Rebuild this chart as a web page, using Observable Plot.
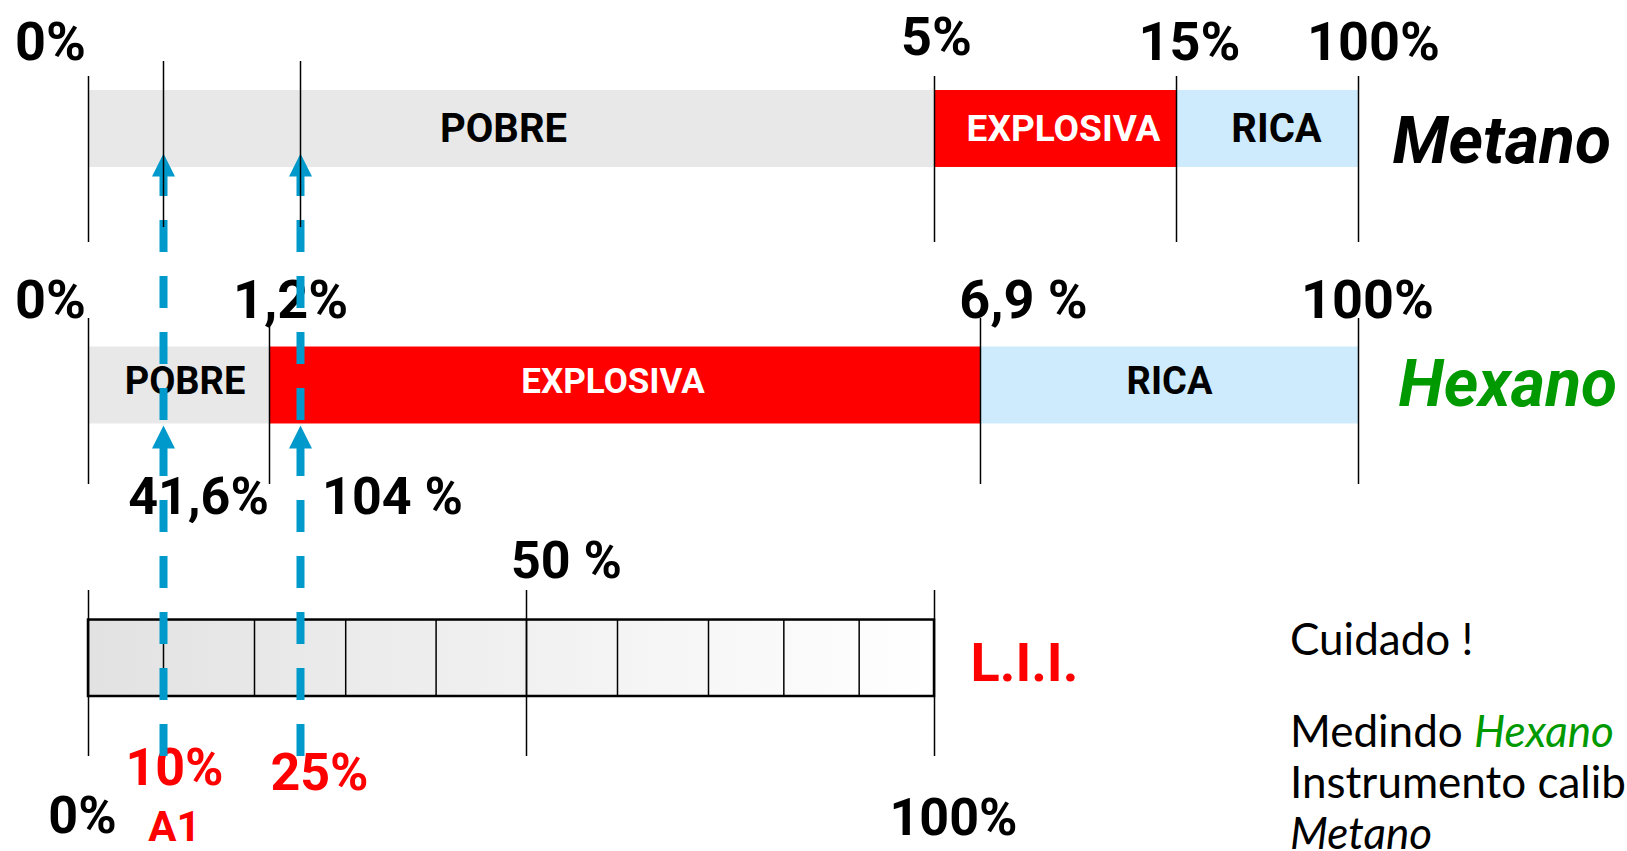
<!DOCTYPE html>
<html>
<head>
<meta charset="utf-8">
<script src="https://cdn.jsdelivr.net/npm/d3@7"></script>
<script src="https://cdn.jsdelivr.net/npm/@observablehq/plot@0.6"></script>
<style>
  html, body { margin: 0; padding: 0; background: #fff; overflow: hidden; width: 1627px; height: 851px; }
  #wrap { position: relative; width: 1627px; height: 851px; overflow: hidden; }
  .note { position: absolute; left: 1290px; font-family: Lato, "Open Sans", sans-serif; font-size: 44px; line-height: 51px; color: #000; white-space: nowrap; }
  .note i { font-style: italic; }
</style>
</head>
<body>
<div id="wrap">
  <div id="chart"></div>
</div>
<script>
// ---------------- data ----------------
const methaneLEL = 5;                       // % vol (L.I.I. of methane, instrument calibration gas)
const rows = ["Metano", "Hexano", "LII"];
const zoneNames = ["POBRE", "EXPLOSIVA", "RICA"];
const metanoBounds = [0, 5, 15, 100];       // % vol
const metanoLabels = ["0%", "5%", "15%", "100%"];
const hexanoBounds = [0, 1.2, 6.9, 100];    // % vol
const hexanoLabels = ["0%", "1,2%", "6,9 %", "100%"];
const liiCells = [0, 10, 20, 30, 40, 50, 60, 70, 80, 90, 100];   // % L.I.I.
const liiTicks = [0, 50, 100];
const liiTickLabels = ["0%", "50 %", "100%"];
const liiName = "L.I.I.";
const readings = [10, 25];                  // instrument readings, % L.I.I. (methane)
const readingLabels = ["10%", "25%"];
const hexanoReadingLabels = ["41,6%", "104 %"];
const pointName = "A1";
const noteLines = ["Cuidado !", "Medindo", "Hexano", "Instrumento calibrado com", "Metano"];

// ---------------- helpers ----------------
const lel = v => v / 100 * methaneLEL;      // % L.I.I. (methane) -> % vol
const BLUE = "#0099cc";
const FONT = "Roboto, 'DejaVu Sans', sans-serif";

// schematic (non-linear, piecewise) % vol axis of the original slide
const xOpts = {
  type: "linear",
  domain: [0, 0.5, 1, 1.2, 1.25, 2.5, 3.5, 5, 15, 100],
  range: [88, 163, 254, 269, 300, 526, 708, 934, 1176, 1358],
  axis: null
};
const yOpts = {
  type: "band", domain: rows, range: [88.5, 694.5],
  paddingInner: 0.709, paddingOuter: 0, round: false, axis: null
};
const xs = Plot.scale({x: xOpts});
const pxMid = (a, b) => xs.invert((xs.apply(a) + xs.apply(b)) / 2);

// arrowhead symbol: tip at the anchor point, pointing up
const arrowHead = {
  draw(ctx, size) {
    const r = Math.sqrt(size / Math.PI);
    ctx.moveTo(0, 0);
    ctx.lineTo(r, 2 * r);
    ctx.lineTo(-r, 2 * r);
    ctx.closePath();
  }
};

const zones = [];
[["Metano", metanoBounds], ["Hexano", hexanoBounds]].forEach(([row, b]) =>
  zoneNames.forEach((z, i) => zones.push({row, zone: z, from: b[i], to: b[i + 1]})));

const boldText = (extra) => ({fontFamily: FONT, fontWeight: "bold", lineAnchor: "bottom", ...extra});

function stopMarks(row, bounds, labels, insets, dys, dxs, fontSize) {
  return [
    Plot.tickX(bounds, {x: d => d, y: () => row, stroke: "#000", strokeWidth: 1.5,
      insetTop: insets[0], insetBottom: insets[1]}),
    ...labels.map((t, i) => Plot.text([bounds[i]], boldText({
      x: d => d, y: () => row, text: () => t, dx: dxs[i], dy: dys[i], fontSize, fill: "#000"})))
  ];
}

function zoneLabelMarks(row, dy, fontSize, dxs) {
  const z = zones.filter(d => d.row === row);
  return z.map((d, i) => Plot.text([d], {x: d => pxMid(d.from, d.to), y: "row", text: "zone",
      dx: dxs[i], dy, lineAnchor: "middle", fontSize: d.zone === "EXPLOSIVA" ? fontSize - 3 : fontSize,
      fontWeight: "bold", fontFamily: FONT, fill: d.zone === "EXPLOSIVA" ? "#fff" : "#000"}));
}

const arrowVol = readings.map(lel);
const zoneBar = (row, insetTop, insetBottom) =>
  Plot.barX(zones.filter(d => d.row === row), {x1: "from", x2: "to", y: "row", fill: "zone", insetTop, insetBottom});

const marks = [
  // zone bars
  zoneBar("Metano", 1.5, -1.5),
  zoneBar("Hexano", -6.5, 6.5),
  // L.I.I. scale bar with gradient fill
  Plot.barX([{from: liiCells[0], to: liiCells[liiCells.length - 1]}], {
    x1: d => lel(d.from), x2: d => lel(d.to), y: () => "LII", fill: "url(#liiGrad)", insetTop: 2, insetBottom: -1.5}),
  Plot.tickX(liiCells.slice(1, -1), {x: d => lel(d), y: () => "LII", stroke: "#000", strokeWidth: 1.5, insetTop: 2, insetBottom: -1.5}),
  Plot.barX([{from: liiCells[0], to: liiCells[liiCells.length - 1]}], {
    x1: d => lel(d.from), x2: d => lel(d.to), y: () => "LII", fill: "none", stroke: "#000", strokeWidth: 2.5, insetTop: 2, insetBottom: -1.5}),

  // stop lines and labels
  ...stopMarks("Metano", metanoBounds, metanoLabels, [-12.5, -76.5], [-67, -72, -67, -67], [-38, 2, 13, 15], 54),
  ...stopMarks("Hexano", hexanoBounds, hexanoLabels, [-35, -54], [-74.5, -74.5, -74.5, -74.5], [-38, 21, 43, 9], 54),
  Plot.tickX(liiTicks, {x: d => lel(d), y: () => "LII", stroke: "#000", strokeWidth: 1.5, insetTop: -27.5, insetBottom: -61.5}),
  Plot.text([liiTicks[1]], boldText({x: d => lel(d), y: () => "LII", text: () => liiTickLabels[1], dx: 40, dy: -79, fontSize: 52})),
  Plot.text([liiTicks[0]], boldText({x: d => lel(d), y: () => "LII", text: () => liiTickLabels[0], dx: -6, dy: 176, fontSize: 52})),
  Plot.text([liiTicks[2]], boldText({x: d => lel(d), y: () => "LII", text: () => liiTickLabels[2], dx: 19, dy: 178, fontSize: 52})),

  // zone names
  ...zoneLabelMarks("Metano", 2, 40, [-8, 8, 9]),
  ...zoneLabelMarks("Hexano", -10, 38, [6, -12, 0]),

  // row names
  Plot.text([rows[0]], boldText({x: () => metanoBounds[3], y: () => rows[0], text: d => d, textAnchor: "start",
    dx: 34, dy: 36, fontSize: 66, fontStyle: "italic", fill: "#000"})),
  Plot.text([rows[1]], boldText({x: () => hexanoBounds[3], y: () => rows[1], text: d => d, textAnchor: "start",
    dx: 40, dy: 13.5, fontSize: 66, fontStyle: "italic", fill: "#009900"})),
  Plot.text([liiName], boldText({x: () => lel(100), y: () => "LII", text: d => d, textAnchor: "start",
    dx: 36, dy: 24, fontSize: 54, letterSpacing: "1px", fill: "#ff0000"})),

  // hexane readings
  Plot.text([arrowVol[0]], boldText({x: d => d, y: () => "Hexano", text: () => hexanoReadingLabels[0], dx: 35, dy: 121.5, fontSize: 52})),
  Plot.text([arrowVol[1]], boldText({x: d => d, y: () => "Hexano", text: () => hexanoReadingLabels[1], dx: 92, dy: 121.5, fontSize: 52})),

  // instrument readings (red)
  Plot.text([arrowVol[0]], boldText({x: d => d, y: () => "LII", text: () => readingLabels[0], dx: 11, dy: 128, fontSize: 52, fill: "#ff0000"})),
  Plot.text([arrowVol[1]], boldText({x: d => d, y: () => "LII", text: () => readingLabels[1], dx: 19, dy: 133, fontSize: 52, fill: "#ff0000"})),
  Plot.text([arrowVol[0]], boldText({x: d => d, y: () => "LII", text: () => pointName, dx: 11, dy: 184, fontSize: 42, fill: "#ff0000"})),

  // blue arrows (lower: reading -> hexano bar; upper: -> metano bar)
  Plot.tickX(arrowVol, {x: d => d, y: () => "LII", stroke: BLUE, strokeWidth: 8, strokeDasharray: "32,24",
    insetTop: -173.5, insetBottom: -61.5}),
  Plot.dot(arrowVol, {x: d => d, y: () => "Hexano", symbol: arrowHead, r: 11.5, fill: BLUE, stroke: "none", dy: 33.5}),
  Plot.tickX(arrowVol, {x: d => d, y: () => "Metano", stroke: BLUE, strokeWidth: 8, strokeDasharray: "32,24",
    insetTop: 75.5, insetBottom: -254.5}),
  Plot.dot(arrowVol, {x: d => d, y: () => "Metano", symbol: arrowHead, r: 11.5, fill: BLUE, stroke: "none", dy: 26}),

  // thin black markers over the upper arrows
  Plot.tickX(arrowVol, {x: d => d, y: () => "Metano", stroke: "#000", strokeWidth: 1.5, insetTop: -27.5, insetBottom: -61.5})
];

const svg = Plot.plot({
  width: 1627,
  height: 851,
  margin: 0,
  x: xOpts,
  y: yOpts,
  color: {domain: zoneNames, range: ["#e8e8e8", "#ff0000", "#cdebfc"], legend: false},
  style: {background: "#fff", overflow: "visible"},
  marks
});

// gradient definition for the L.I.I. bar
const defs = d3.select(svg).insert("defs", ":first-child");
const grad = defs.append("linearGradient").attr("id", "liiGrad")
  .attr("x1", "0").attr("x2", "1").attr("y1", "0").attr("y2", "0");
grad.append("stop").attr("offset", "0").attr("stop-color", "#e2e2e2");
grad.append("stop").attr("offset", "1").attr("stop-color", "#ffffff");

document.getElementById("chart").appendChild(svg);

// side note (text block on the right)
const wrap = document.getElementById("wrap");
const baseTop = b => (b - 42.5) + "px";
const addLine = (html, baseline) => {
  const div = document.createElement("div");
  div.className = "note";
  div.style.top = baseTop(baseline);
  div.innerHTML = html;
  wrap.appendChild(div);
};
addLine(noteLines[0], 655);
addLine(noteLines[1] + ' <i style="color:#009900">' + noteLines[2] + '</i>', 747);
addLine(noteLines[3], 798);
addLine('<i>' + noteLines[4] + '</i>', 849);
</script>
</body>
</html>
